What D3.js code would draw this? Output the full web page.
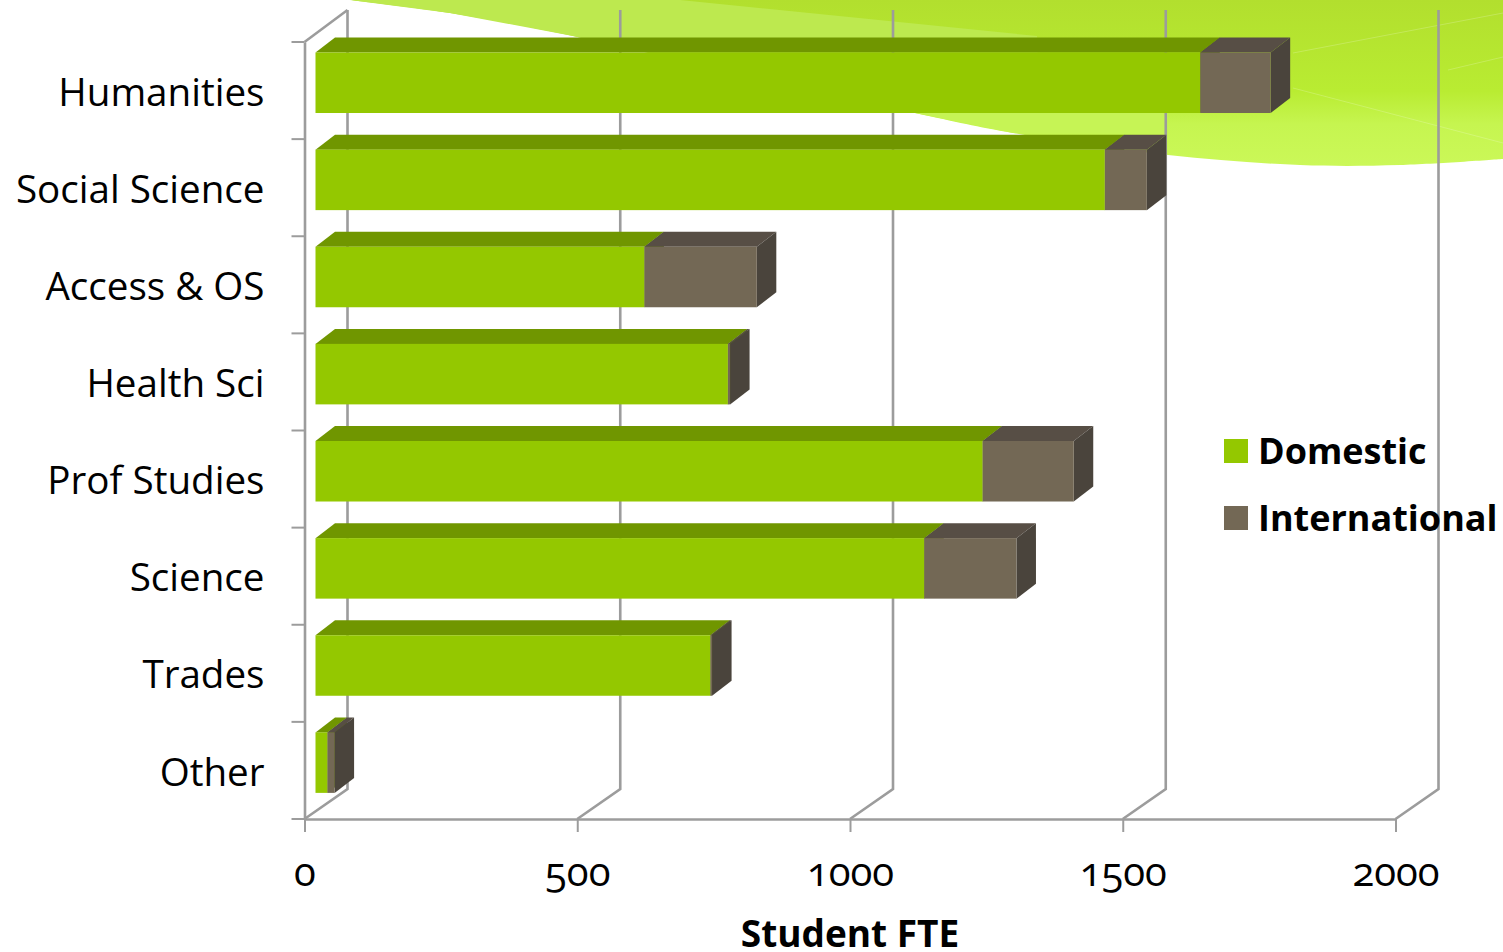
<!DOCTYPE html>
<html>
<head>
<meta charset="utf-8">
<script src="https://cdn.jsdelivr.net/npm/d3@7"></script>
<style>
  html, body { margin: 0; padding: 0; background: #fff; overflow: hidden; }
  text { font-family: "Open Sans", sans-serif; fill: #000; }
  .tick-x text { font-feature-settings: "onum"; font-variant-numeric: oldstyle-nums; }
</style>
</head>
<body>
<div id="chart"></div>
<script>
// Data
const categories = ["Humanities", "Social Science", "Access & OS", "Health Sci", "Prof Studies", "Science", "Trades", "Other"];
const domestic = [1622, 1447, 603, 756, 1223, 1116, 724, 22];
const international = [129, 77, 206, 4, 167, 169, 3, 13];
const seriesNames = ["Domestic", "International"];
const xTicks = [0, 500, 1000, 1500, 2000];

const width = 1503, height = 952;

// Plot box of the front of the 3D chart
const plotLeft = 304.5, plotRight = 1395.5, plotTop = 42, plotBottom = 819;
const wall = {dx: 43, dy: -30, topDy: -32};   // depth of the floor and back wall
const depth = {dx: 19.5, dy: -15};  // depth of a bar
const barStart = 11;                // gap between axis and bar front

const colors = {
  Domestic: {front: "#94c800", top: "#709600", side: "#5a7800"},
  International: {front: "#736855", top: "#574e45", side: "#4a443c"}
};
const gridColor = "#9c9c9c";

const svg = d3.select("#chart").append("svg")
  .attr("width", width)
  .attr("height", height)
  .style("display", "block");

// Background swoosh
const defs = svg.append("defs");
const grad = defs.append("linearGradient")
  .attr("id", "swoosh")
  .attr("x1", 0).attr("y1", 0).attr("x2", 0).attr("y2", 1);
grad.append("stop").attr("offset", "0%").attr("stop-color", "#b2df2e");
grad.append("stop").attr("offset", "55%").attr("stop-color", "#b9ec32");
grad.append("stop").attr("offset", "75%").attr("stop-color", "#c6f550");
grad.append("stop").attr("offset", "100%").attr("stop-color", "#cbf858");

const bgLine = d3.line().curve(d3.curveCatmullRom);
svg.append("path")
  .attr("fill", "url(#swoosh)")
  .attr("d", bgLine([[350, 0], [450, 13], [573, 36], [915, 113], [1013, 133], [1168, 155], [1300, 165], [1400, 165], [1503, 159]])
    + "L1503,0Z");
svg.append("path")
  .attr("fill", "#bde94f")
  .attr("d", "M350,0L450,13L573,36L915,113L1040,113L1037,36L680,0Z");
svg.append("path")
  .attr("fill", "#c6f455")
  .attr("d", "M915,113L1013,133L1168,133L1168,113Z");
// faint streaks on the right of the swoosh
[[[1293, 53], [1503, 13]], [[1293, 88], [1503, 143]], [[1448, 70], [1503, 57]]].forEach(p => {
  svg.append("path")
    .attr("d", d3.line()(p))
    .attr("fill", "none")
    .attr("stroke", "#fff")
    .attr("stroke-opacity", 0.2);
});

// Scales
const x = d3.scaleLinear().domain([0, 2000]).range([plotLeft, plotRight]);
const y = d3.scaleBand().domain(categories).range([plotTop, plotBottom])
  .paddingInner(0.377).paddingOuter(0.1885);

// Back wall and floor gridlines
const grid = svg.append("g")
  .attr("fill", "none")
  .attr("stroke", gridColor)
  .attr("stroke-width", 2.6);
grid.selectAll("path")
  .data(xTicks)
  .enter()
  .append("path")
    .attr("d", d => d3.line()([
      [x(d) + wall.dx, plotTop + wall.topDy],
      [x(d) + wall.dx, plotBottom + wall.dy],
      [x(d), plotBottom]
    ]));
// left wall top edge
grid.append("path")
  .attr("d", d3.line()([[plotLeft, plotTop], [plotLeft + wall.dx, plotTop + wall.topDy]]));

// Axes
const xAxis = svg.append("g")
  .attr("class", "tick-x")
  .attr("transform", `translate(0,${plotBottom})`)
  .call(d3.axisBottom(x).tickValues(xTicks).tickFormat(d3.format("d")).tickSize(13).tickSizeOuter(0).tickPadding(26));
const yAxis = svg.append("g")
  .attr("transform", `translate(${plotLeft},0)`)
  .call(d3.axisLeft(y).tickSize(0).tickPadding(40));
[xAxis, yAxis].forEach(a => {
  a.select(".domain").attr("stroke", gridColor).attr("stroke-width", 2.6);
  a.selectAll("line").attr("stroke", gridColor).attr("stroke-width", 2);
});
xAxis.selectAll("text").style("font-size", "40px");
yAxis.selectAll("text").style("font-size", "38.6px");
yAxis.selectAll(".tick text").attr("dy", "0.39em");

// Category tick marks sit on the band edges
svg.append("g")
  .selectAll("line")
  .data(d3.range(categories.length + 1))
  .enter()
  .append("line")
    .attr("x1", plotLeft - 13)
    .attr("x2", plotLeft)
    .attr("y1", i => plotTop + i * y.step())
    .attr("y2", i => plotTop + i * y.step())
    .attr("stroke", gridColor)
    .attr("stroke-width", 2);

// Stacked 3D bars
const rows = categories.map((c, i) => ({category: c, Domestic: domestic[i], International: international[i]}));
const stacked = d3.stack().keys(seriesNames)(rows);
const barShift = plotTop + 10.5 - y(categories[0]);
const quad = d3.line();

const bars = svg.append("g");
categories.forEach((c, i) => {
  const by = y(c) + barShift, bh = y.bandwidth();
  stacked.forEach(s => {
    const col = colors[s.key];
    const x0 = x(s[i][0]) + barStart, x1 = x(s[i][1]) + barStart;
    bars.append("path").attr("fill", col.top)
      .attr("d", quad([[x0, by], [x1, by], [x1 + depth.dx, by + depth.dy], [x0 + depth.dx, by + depth.dy]]) + "Z");
    bars.append("path").attr("fill", col.side)
      .attr("d", quad([[x1, by], [x1 + depth.dx, by + depth.dy], [x1 + depth.dx, by + bh + depth.dy], [x1, by + bh]]) + "Z");
    bars.append("rect").attr("fill", col.front)
      .attr("x", x0).attr("y", by)
      .attr("width", x1 - x0).attr("height", bh);
  });
});

// Legend
const legend = svg.append("g");
seriesNames.forEach((name, i) => {
  legend.append("rect")
    .attr("x", 1224).attr("y", 439 + i * 67)
    .attr("width", 24).attr("height", 24)
    .attr("fill", colors[name].front);
  legend.append("text")
    .attr("x", 1258).attr("y", 464 + i * 67)
    .style("font-size", "36px")
    .style("font-weight", 700)
    .text(name);
});

// Axis title
svg.append("text")
  .attr("text-anchor", "middle")
  .attr("x", 850)
  .attr("y", 947)
  .style("font-size", "37px")
  .style("font-weight", 700)
  .text("Student FTE");
</script>
</body>
</html>
